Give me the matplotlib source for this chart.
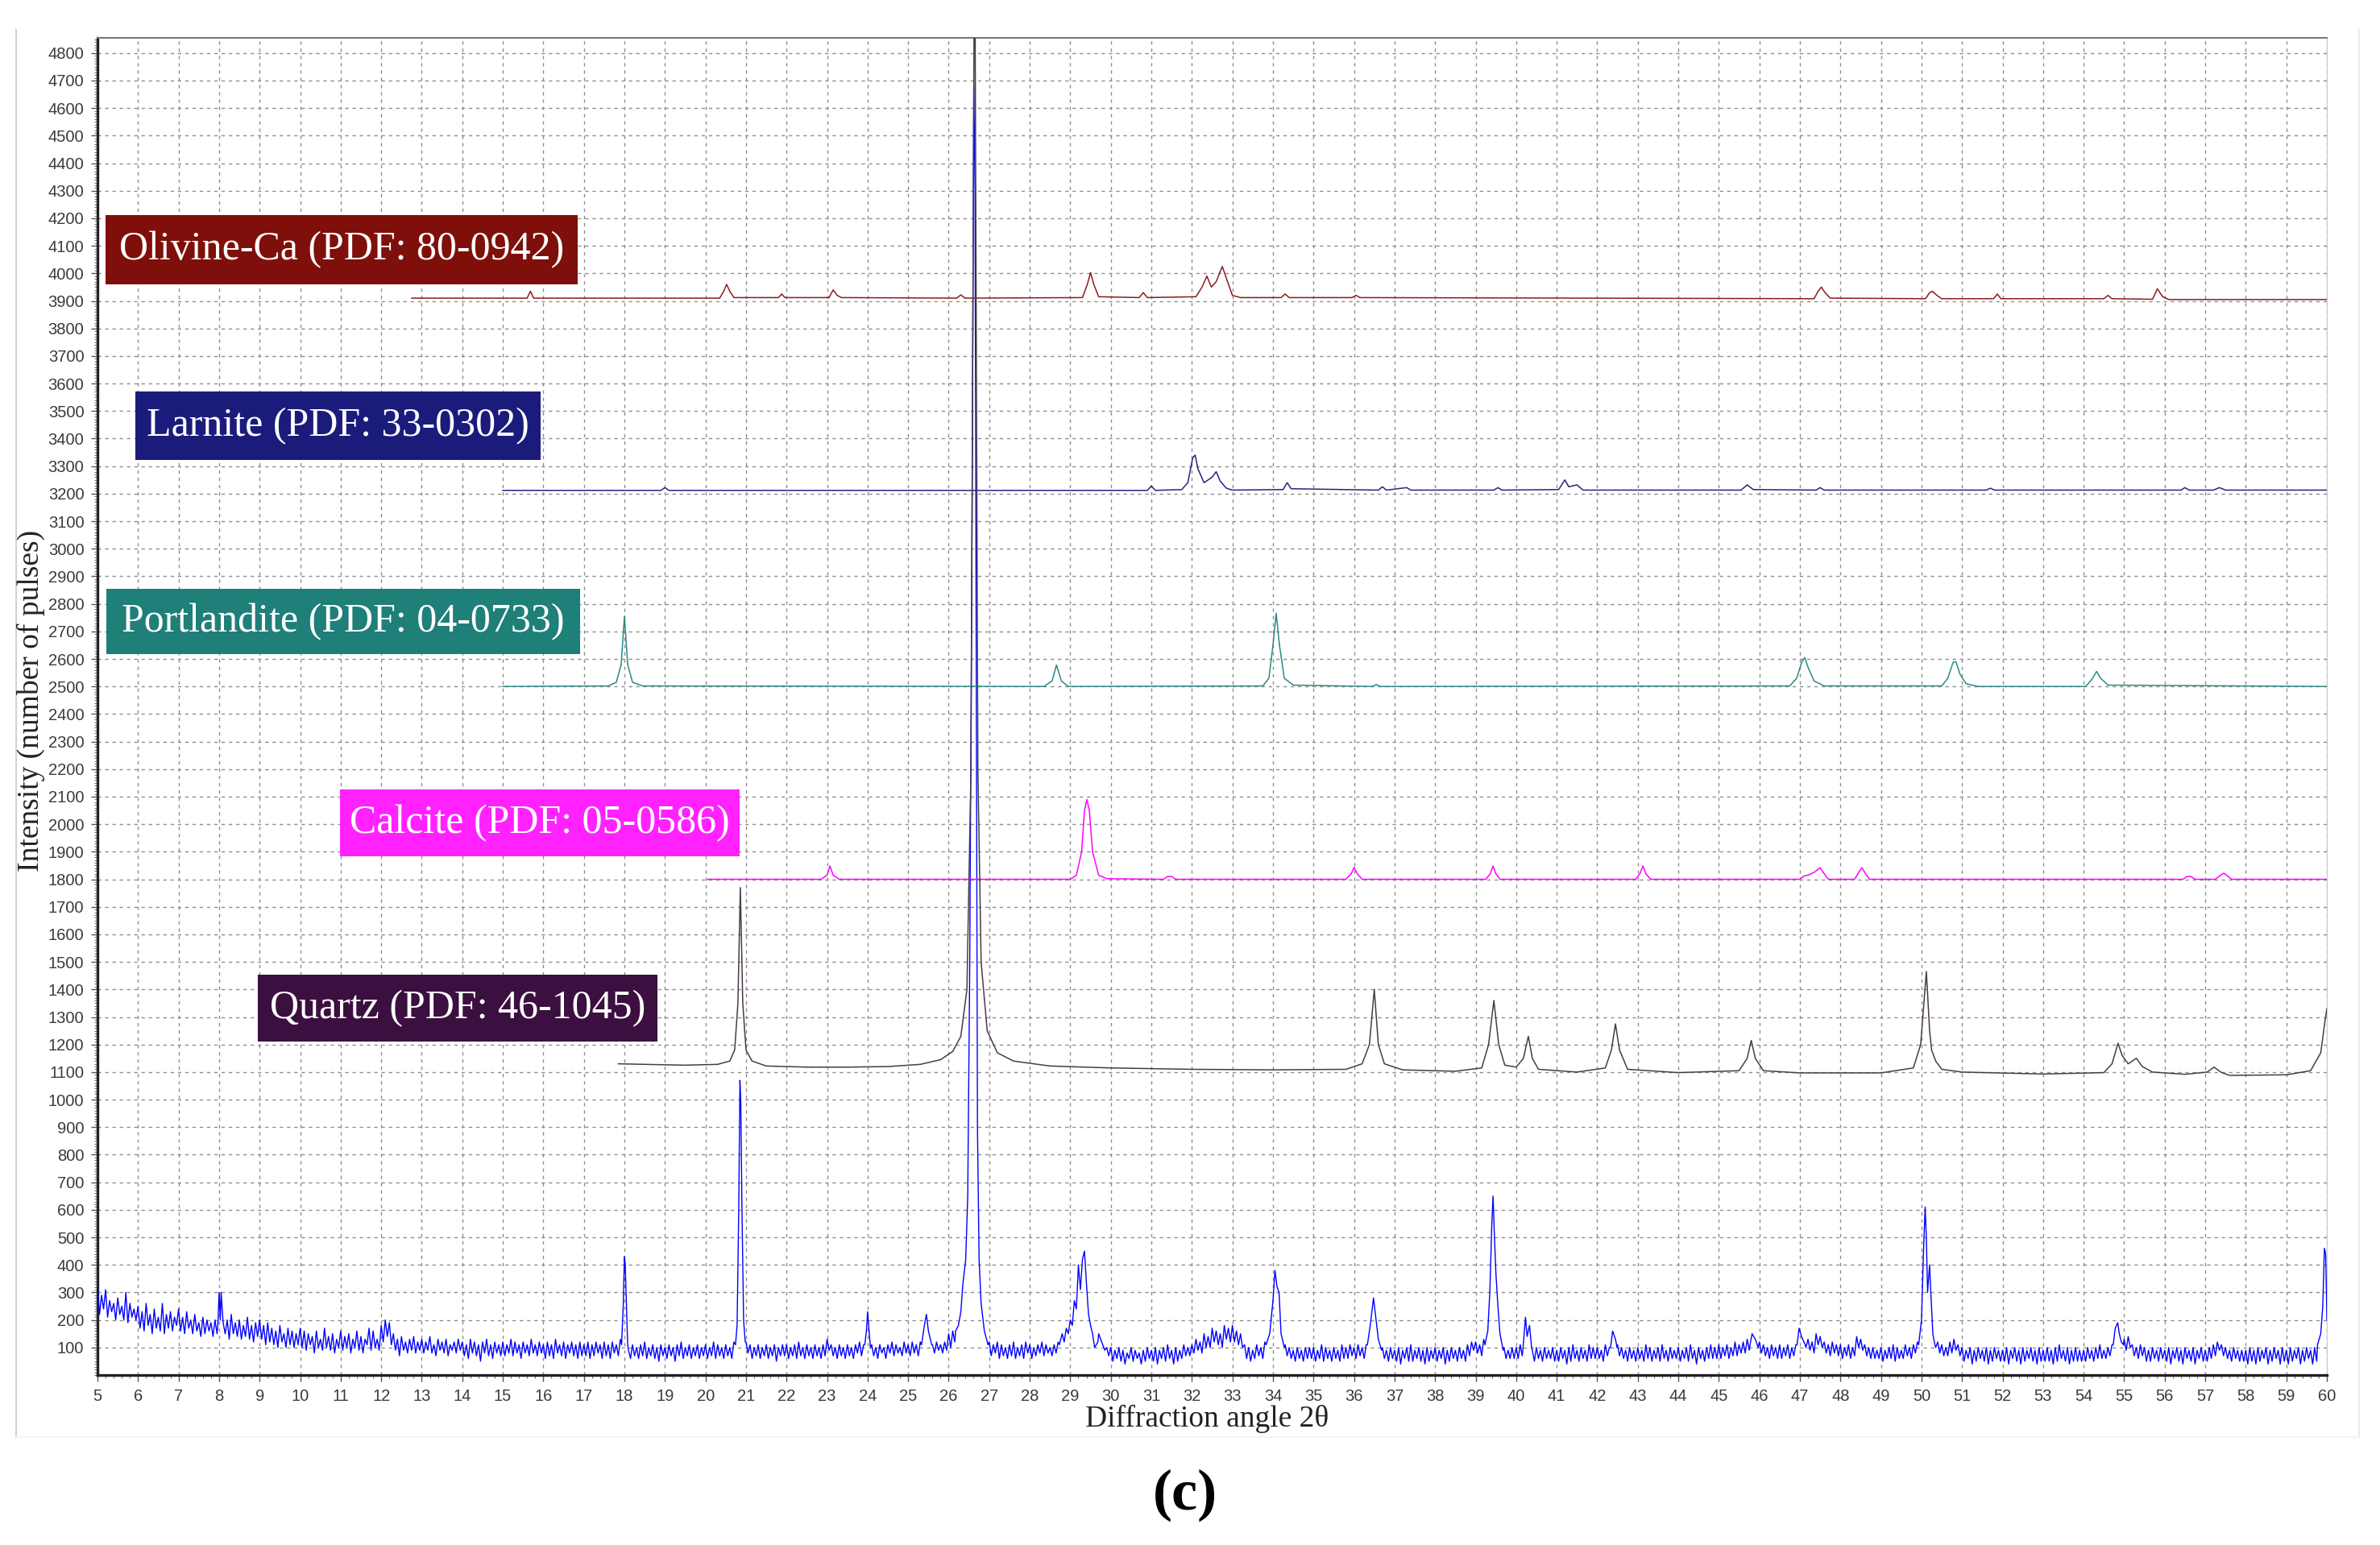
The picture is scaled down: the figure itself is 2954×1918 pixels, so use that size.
import matplotlib
matplotlib.use("Agg")
import matplotlib.pyplot as plt
from matplotlib.patches import Rectangle
from matplotlib.lines import Line2D
from matplotlib.ticker import MultipleLocator, FixedLocator

# ---------------- data ----------------
x_ticks = list(range(5, 61))
y_ticks = list(range(100, 4801, 100))

# measured pattern: background sampled every 0.05 deg, one row per degree (5.00 .. 59.95), then 60.0
blue_base = [
    [320, 220, 290, 240, 310, 210, 270, 230, 260, 200, 280, 220, 250, 200, 300, 190, 260, 210, 240, 200],  # 5
    [250, 170, 230, 160, 260, 180, 220, 150, 240, 170, 210, 160, 260, 150, 220, 170, 230, 160, 210, 180],  # 6
    [240, 160, 210, 150, 230, 170, 200, 150, 220, 160, 190, 140, 210, 150, 200, 160, 190, 140, 200, 150],  # 7
    [210, 300, 190, 150, 200, 130, 220, 150, 190, 140, 200, 130, 180, 140, 210, 130, 180, 120, 190, 140],  # 8
    [200, 130, 180, 110, 190, 120, 170, 110, 160, 100, 180, 120, 150, 100, 170, 110, 160, 100, 150, 110],  # 9
    [170, 100, 160, 90, 150, 110, 140, 80, 160, 100, 130, 90, 170, 100, 140, 90, 150, 80, 130, 100],       # 10
    [160, 90, 140, 100, 150, 80, 130, 100, 160, 90, 140, 80, 130, 110, 170, 90, 160, 100, 130, 90],        # 11
    [180, 120, 200, 140, 190, 110, 150, 90, 130, 70, 140, 90, 120, 80, 130, 90, 140, 80, 120, 90],         # 12
    [130, 80, 120, 90, 140, 80, 110, 70, 130, 90, 120, 80, 130, 70, 110, 90, 120, 80, 130, 90],            # 13
    [120, 70, 110, 60, 130, 80, 120, 70, 110, 50, 120, 80, 130, 70, 110, 60, 120, 80, 110, 70],            # 14
    [120, 70, 110, 80, 130, 70, 120, 80, 110, 60, 120, 80, 110, 70, 130, 80, 110, 70, 120, 80],            # 15
    [110, 60, 120, 70, 110, 60, 130, 80, 110, 70, 120, 60, 110, 80, 120, 70, 110, 60, 120, 70],            # 16
    [110, 70, 120, 60, 110, 70, 120, 80, 110, 60, 120, 70, 110, 60, 120, 80, 110, 70, 130, 90],            # 17
    [400, 110, 90, 60, 110, 70, 100, 60, 110, 70, 120, 60, 100, 70, 110, 60, 100, 50, 110, 70],            # 18
    [100, 60, 110, 70, 100, 50, 110, 70, 120, 60, 100, 70, 110, 60, 100, 70, 110, 60, 100, 70],            # 19
    [110, 60, 100, 70, 120, 60, 110, 70, 100, 60, 110, 70, 100, 60, 120, 80, 110, 90, 130, 100],           # 20
    [120, 80, 110, 60, 100, 70, 110, 60, 100, 70, 110, 60, 100, 70, 110, 50, 100, 70, 110, 70],            # 21
    [110, 60, 100, 70, 110, 60, 120, 70, 100, 60, 110, 70, 100, 60, 110, 70, 100, 60, 110, 70],            # 22
    [130, 90, 110, 70, 100, 60, 110, 70, 100, 60, 110, 70, 100, 60, 110, 80, 120, 70, 110, 80],            # 23
    [200, 100, 110, 70, 100, 60, 110, 80, 100, 60, 110, 80, 120, 70, 110, 80, 100, 70, 120, 80],           # 24
    [110, 70, 120, 80, 110, 70, 120, 80, 130, 90, 120, 90, 110, 80, 120, 90, 110, 80, 120, 90],            # 25
    [150, 100, 160, 120, 170, 130, 200, 150, 190, 160, 180, 150, 170, 140, 160, 130, 150, 120, 140, 110],  # 26
    [120, 70, 110, 80, 120, 60, 110, 70, 100, 60, 110, 70, 120, 60, 100, 70, 110, 60, 120, 80],            # 27
    [110, 60, 100, 70, 110, 80, 120, 70, 110, 80, 100, 70, 110, 80, 120, 90, 110, 90, 130, 100],           # 28
    [200, 230, 270, 300, 400, 380, 420, 440, 450, 420, 330, 250, 200, 170, 150, 130, 110, 90, 100, 70],    # 29
    [100, 50, 90, 60, 100, 50, 90, 40, 80, 60, 100, 50, 90, 60, 80, 40, 90, 50, 100, 60],                  # 30
    [90, 50, 100, 40, 90, 60, 100, 50, 110, 60, 90, 40, 100, 50, 90, 60, 110, 70, 100, 70],                # 31
    [110, 80, 130, 90, 120, 80, 150, 100, 140, 100, 170, 120, 160, 110, 150, 100, 180, 130, 170, 120],     # 32
    [180, 120, 160, 110, 150, 100, 110, 60, 100, 50, 90, 60, 110, 70, 100, 60, 120, 80, 110, 70],          # 33
    [250, 330, 350, 320, 150, 120, 110, 70, 100, 60, 90, 50, 100, 60, 90, 50, 100, 60, 100, 60],           # 34
    [100, 50, 90, 60, 110, 50, 100, 60, 90, 50, 100, 60, 90, 50, 110, 60, 100, 60, 110, 70],               # 35
    [100, 60, 110, 70, 100, 60, 110, 70, 200, 250, 280, 150, 120, 80, 100, 60, 90, 50, 100, 60],           # 36
    [90, 50, 100, 40, 90, 60, 100, 50, 110, 50, 90, 60, 100, 50, 90, 40, 100, 50, 90, 60],                 # 37
    [100, 50, 90, 60, 100, 40, 90, 50, 100, 60, 90, 50, 100, 60, 90, 50, 110, 70, 120, 90],                # 38
    [120, 80, 110, 70, 130, 90, 160, 200, 600, 500, 370, 200, 150, 100, 100, 60, 90, 60, 100, 60],         # 39
    [100, 60, 110, 70, 210, 150, 90, 60, 90, 50, 100, 60, 90, 50, 100, 60, 90, 60, 100, 50],               # 40
    [90, 50, 100, 60, 90, 40, 100, 50, 110, 60, 90, 50, 100, 60, 90, 50, 110, 60, 100, 60],                # 41
    [100, 60, 90, 50, 110, 70, 100, 80, 150, 120, 110, 70, 100, 60, 90, 50, 100, 60, 90, 50],              # 42
    [100, 60, 90, 50, 110, 60, 100, 50, 90, 60, 100, 50, 110, 60, 90, 50, 100, 60, 90, 60],                # 43
    [100, 50, 90, 60, 100, 50, 110, 60, 90, 40, 100, 60, 90, 50, 100, 60, 110, 60, 100, 60],               # 44
    [110, 60, 100, 70, 110, 60, 100, 70, 120, 70, 110, 80, 120, 80, 130, 90, 150, 110, 140, 100],          # 45
    [120, 80, 110, 70, 100, 60, 110, 70, 100, 60, 110, 60, 100, 70, 110, 60, 100, 70, 110, 80],            # 46
    [160, 120, 140, 100, 130, 90, 120, 80, 150, 110, 140, 100, 120, 80, 110, 70, 120, 80, 110, 70],        # 47
    [110, 60, 100, 70, 110, 60, 100, 70, 140, 100, 130, 90, 110, 70, 100, 60, 100, 60, 90, 60],            # 48
    [100, 50, 90, 60, 100, 60, 110, 50, 100, 60, 90, 60, 110, 70, 100, 60, 110, 80, 120, 90],              # 49
    [150, 300, 500, 420, 350, 200, 130, 100, 120, 80, 110, 70, 100, 70, 120, 80, 130, 90, 110, 70],        # 50
    [100, 50, 90, 60, 100, 40, 90, 50, 100, 60, 90, 50, 100, 40, 90, 50, 100, 60, 90, 50],                 # 51
    [90, 50, 100, 40, 90, 60, 100, 50, 90, 40, 100, 50, 90, 60, 100, 50, 90, 40, 100, 50],                 # 52
    [90, 50, 100, 50, 90, 40, 100, 50, 110, 60, 90, 50, 100, 40, 90, 50, 100, 50, 90, 50],                 # 53
    [90, 50, 100, 60, 90, 50, 100, 60, 110, 60, 90, 60, 100, 70, 110, 80, 170, 130, 140, 100],             # 54
    [130, 90, 140, 100, 110, 70, 100, 60, 110, 70, 100, 50, 90, 50, 100, 60, 90, 50, 100, 60],             # 55
    [90, 50, 100, 40, 90, 60, 100, 50, 90, 40, 100, 60, 90, 50, 100, 40, 90, 60, 100, 50],                 # 56
    [90, 50, 100, 60, 110, 70, 120, 90, 110, 70, 100, 60, 90, 50, 100, 60, 90, 50, 90, 50],                # 57
    [90, 40, 100, 50, 90, 40, 100, 50, 90, 60, 100, 40, 90, 50, 100, 60, 90, 40, 100, 50],                 # 58
    [90, 40, 100, 50, 90, 60, 100, 40, 90, 50, 100, 60, 90, 40, 100, 50, 120, 90, 150, 110],               # 59
    [200],                                                                                                 # 60
]

# sharp peaks of the measured pattern (2theta, counts)
blue_peaks = [
    [(7.97, 180), (8.0, 300), (8.03, 200)],
    [(17.93, 110), (17.97, 250), (18.0, 430), (18.02, 400), (18.05, 250), (18.08, 110)],
    [(20.74, 110), (20.78, 180), (20.82, 600), (20.85, 1070), (20.87, 1000), (20.9, 600), (20.94, 200), (20.98, 120)],
    [(23.93, 110), (23.97, 160), (24.0, 230), (24.03, 170), (24.07, 100)],
    [(25.33, 110), (25.4, 180), (25.45, 220), (25.5, 160), (25.58, 110)],
    [(26.17, 160), (26.24, 180), (26.3, 230), (26.35, 330), (26.42, 420), (26.47, 650), (26.52, 1500),
     (26.58, 3200), (26.62, 4680), (26.65, 4300), (26.68, 2600), (26.71, 900), (26.75, 420),
     (26.8, 260), (26.88, 160), (26.97, 110)],
    [(28.73, 110), (28.8, 150), (28.85, 120), (28.9, 170), (28.95, 150), (29.0, 200), (29.05, 180),
     (29.1, 270), (29.15, 240), (29.2, 400), (29.25, 310), (29.3, 420), (29.35, 450), (29.4, 330),
     (29.45, 220), (29.5, 180), (29.55, 150), (29.6, 100), (29.68, 120)],
    [(33.83, 110), (33.92, 150), (34.0, 270), (34.05, 380), (34.1, 320), (34.15, 300), (34.2, 150), (34.28, 100)],
    [(36.33, 110), (36.4, 180), (36.48, 280), (36.52, 230), (36.6, 130), (36.68, 90)],
    [(39.23, 110), (39.3, 160), (39.35, 300), (39.4, 550), (39.43, 650), (39.46, 520), (39.5, 370),
     (39.55, 250), (39.6, 150), (39.68, 90)],
    [(40.17, 100), (40.23, 210), (40.27, 140), (40.33, 180), (40.38, 100)],
    [(42.33, 100), (42.38, 160), (42.45, 130), (42.49, 100)],
    [(45.77, 110), (45.82, 150), (45.9, 130), (45.97, 100)],
    [(46.93, 110), (46.98, 170), (47.04, 140), (47.13, 110)],
    [(49.93, 110), (50.0, 200), (50.05, 450), (50.09, 610), (50.12, 500), (50.15, 300), (50.2, 400),
     (50.23, 300), (50.28, 150), (50.33, 110)],
    [(54.73, 110), (54.78, 170), (54.84, 190), (54.88, 150), (54.93, 120), (54.98, 110)],
    [(59.77, 110), (59.85, 150), (59.9, 250), (59.94, 460), (59.97, 440), (59.99, 300), (60.0, 200)],
]

# reference patterns (2theta, offset intensity)
quartz = [(17.85, 1130), (18.5, 1128), (19.5, 1125), (20.3, 1128), (20.6, 1140), (20.72, 1180), (20.8, 1350),
          (20.86, 1770), (20.92, 1350), (21.0, 1180), (21.15, 1140), (21.5, 1122), (22.5, 1118), (23.5, 1118),
          (24.5, 1120), (25.3, 1128), (25.8, 1145), (26.1, 1175), (26.3, 1230), (26.45, 1400), (26.55, 2200),
          (26.64, 5400), (26.72, 2200), (26.8, 1500), (26.95, 1250), (27.2, 1170), (27.6, 1140), (28.5, 1122),
          (30.0, 1115), (32.0, 1110), (34.0, 1108), (35.8, 1110), (36.2, 1130), (36.38, 1200), (36.5, 1400),
          (36.6, 1200), (36.75, 1130), (37.2, 1108), (38.5, 1103), (39.15, 1115), (39.32, 1200), (39.45, 1360),
          (39.57, 1200), (39.72, 1125), (40.0, 1118), (40.18, 1150), (40.3, 1230), (40.4, 1150), (40.55, 1110),
          (41.5, 1100), (42.2, 1115), (42.35, 1180), (42.45, 1275), (42.55, 1180), (42.75, 1110), (44.0, 1098),
          (45.5, 1105), (45.7, 1150), (45.8, 1215), (45.9, 1150), (46.1, 1105), (47.0, 1097), (49.0, 1097),
          (49.8, 1115), (49.98, 1200), (50.12, 1465), (50.2, 1250), (50.25, 1180), (50.35, 1140), (50.5, 1110),
          (51.0, 1100), (53.0, 1093), (54.5, 1098), (54.7, 1130), (54.85, 1205), (54.95, 1160), (55.1, 1130),
          (55.3, 1150), (55.45, 1120), (55.7, 1100), (56.5, 1092), (57.05, 1100), (57.22, 1118), (57.38, 1100),
          (57.6, 1088), (59.0, 1090), (59.6, 1105), (59.85, 1170), (59.95, 1280), (60.0, 1330)]

calcite = [(20.05, 1800), (22.85, 1800), (23.0, 1815), (23.07, 1848), (23.15, 1815), (23.3, 1800), (29.0, 1800),
           (29.15, 1815), (29.28, 1900), (29.35, 2050), (29.41, 2090), (29.47, 2050), (29.55, 1900), (29.7, 1815),
           (29.9, 1802), (31.3, 1800), (31.4, 1810), (31.5, 1810), (31.6, 1800), (35.8, 1800), (35.93, 1820),
           (36.0, 1843), (36.08, 1820), (36.2, 1800), (39.25, 1800), (39.36, 1820), (39.43, 1848), (39.5, 1820),
           (39.6, 1800), (42.95, 1800), (43.05, 1820), (43.13, 1848), (43.2, 1820), (43.32, 1800), (47.0, 1800),
           (47.1, 1812), (47.2, 1815), (47.35, 1825), (47.5, 1842), (47.6, 1820), (47.7, 1800), (48.35, 1800),
           (48.45, 1825), (48.53, 1842), (48.62, 1820), (48.72, 1800), (56.45, 1800), (56.55, 1810),
           (56.65, 1810), (56.75, 1800), (57.25, 1800), (57.38, 1815), (57.46, 1822), (57.55, 1812),
           (57.65, 1800), (60.0, 1800)]

portlandite = [(15.0, 2500), (17.6, 2502), (17.8, 2515), (17.92, 2580), (18.0, 2755), (18.08, 2580), (18.2, 2515),
               (18.45, 2502), (28.35, 2500), (28.55, 2520), (28.66, 2578), (28.78, 2520), (28.95, 2500),
               (33.75, 2502), (33.9, 2530), (34.0, 2650), (34.08, 2766), (34.16, 2650), (34.28, 2530),
               (34.5, 2505), (36.45, 2500), (36.55, 2507), (36.65, 2500), (46.75, 2502), (46.92, 2530),
               (47.05, 2590), (47.12, 2605), (47.2, 2570), (47.35, 2520), (47.6, 2502), (50.5, 2502),
               (50.65, 2530), (50.78, 2588), (50.85, 2590), (50.95, 2545), (51.1, 2510), (51.4, 2500),
               (54.05, 2500), (54.2, 2525), (54.32, 2555), (54.42, 2530), (54.6, 2505), (60.0, 2500)]

larnite = [(15.0, 3212), (18.9, 3212), (19.0, 3222), (19.1, 3212), (30.9, 3212), (31.0, 3228), (31.1, 3212),
           (31.75, 3215), (31.9, 3240), (32.02, 3330), (32.08, 3340), (32.15, 3290), (32.3, 3240), (32.5, 3260),
           (32.6, 3280), (32.7, 3245), (32.85, 3220), (33.0, 3213), (34.25, 3215), (34.35, 3240), (34.45, 3218),
           (36.6, 3213), (36.7, 3225), (36.8, 3213), (37.3, 3222), (37.4, 3213), (39.45, 3213), (39.55, 3222),
           (39.65, 3213), (41.05, 3215), (41.2, 3250), (41.3, 3225), (41.5, 3232), (41.65, 3213), (45.55, 3213),
           (45.7, 3232), (45.85, 3215), (47.4, 3213), (47.5, 3222), (47.6, 3213), (51.6, 3213), (51.7, 3220),
           (51.8, 3213), (56.4, 3213), (56.5, 3222), (56.6, 3213), (57.2, 3213), (57.35, 3222), (57.5, 3213),
           (60.0, 3213)]

olivine = [(12.75, 3910), (15.6, 3910), (15.68, 3935), (15.76, 3910), (20.35, 3910), (20.45, 3935), (20.52, 3960),
           (20.6, 3935), (20.7, 3912), (21.8, 3912), (21.88, 3925), (21.96, 3912), (23.05, 3912), (23.15, 3940),
           (23.25, 3920), (23.35, 3912), (26.2, 3910), (26.3, 3922), (26.4, 3910), (29.3, 3912), (29.42, 3960),
           (29.5, 4003), (29.58, 3960), (29.7, 3915), (30.7, 3912), (30.8, 3930), (30.9, 3912), (32.1, 3915),
           (32.25, 3950), (32.37, 3990), (32.48, 3950), (32.6, 3970), (32.75, 4025), (32.88, 3970), (33.0, 3920),
           (33.2, 3912), (34.2, 3912), (34.3, 3925), (34.4, 3912), (35.95, 3912), (36.05, 3920), (36.15, 3912),
           (47.35, 3908), (47.45, 3935), (47.53, 3950), (47.62, 3930), (47.75, 3910), (50.1, 3908), (50.2, 3930),
           (50.27, 3935), (50.38, 3920), (50.5, 3908), (51.78, 3908), (51.87, 3925), (51.96, 3908), (54.5, 3908),
           (54.6, 3920), (54.7, 3908), (55.7, 3906), (55.82, 3944), (55.95, 3915), (56.1, 3905), (60.0, 3905)]

phase_labels = ["Olivine-Ca (PDF: 80-0942)", "Larnite (PDF: 33-0302)", "Portlandite (PDF: 04-0733)",
                "Calcite (PDF: 05-0586)", "Quartz (PDF: 46-1045)"]

# ---------------- build measured pattern ----------------
flat = [v for row in blue_base for v in row]
pts = [(round(5.0 + 0.05 * i, 2), v) for i, v in enumerate(flat)]
for pk in blue_peaks:
    lo, hi = pk[0][0], pk[-1][0]
    pts = [p for p in pts if not (lo <= p[0] <= hi)]
    pts += pk
pts.sort()
bx = [p[0] for p in pts]
by = [p[1] for p in pts]

# ---------------- figure ----------------
W, H = 2954, 1918
fig = plt.figure(figsize=(W / 100, H / 100), dpi=100)
fig.patch.set_facecolor("white")

L, R, T, B = 121, 2888, 47, 1707
ax = fig.add_axes([L / W, 1 - B / H, (R - L) / W, (B - T) / H])

ax.plot(bx, by, color="#0000ff", lw=1.0, zorder=3)

ref_series = [
    (olivine, "#8a1d1d"),
    (larnite, "#25257e"),
    (portlandite, "#2a8a84"),
    (calcite, "#ff00ff"),
    (quartz, "#4a3a4a"),
]
for data, col in ref_series:
    ax.plot([d[0] for d in data], [d[1] for d in data], color=col, lw=1.1, zorder=4)

ax.set_xlim(5, 60)
ax.set_ylim(0, 4855)

ax.xaxis.set_major_locator(FixedLocator(x_ticks))
ax.xaxis.set_minor_locator(MultipleLocator(0.2))
ax.yaxis.set_major_locator(FixedLocator(y_ticks))
ax.yaxis.set_minor_locator(MultipleLocator(10))

tick_font = dict(family="Liberation Sans", size=14.5, color="#3a3a3a")
ax.set_xticklabels([str(t) for t in x_ticks], **tick_font)
ax.set_yticklabels([str(t) for t in y_ticks], **tick_font)
ax.tick_params(axis="both", which="major", direction="out", length=6, width=1.0, color="#555555", pad=6)
ax.tick_params(axis="both", which="minor", direction="out", length=3, width=0.8, color="#777777")

ax.grid(True, which="major", color="#8c8c8c", lw=1.0, ls=(0, (3, 3.5)))
ax.set_axisbelow(True)

ax.spines["left"].set_linewidth(2.4)
ax.spines["bottom"].set_linewidth(2.4)
ax.spines["left"].set_color("#222222")
ax.spines["bottom"].set_color("#222222")
ax.spines["top"].set_color("#7a7a7a")
ax.spines["top"].set_linewidth(1.5)
ax.spines["right"].set_color("#c8c8c8")
ax.spines["right"].set_linewidth(0.8)

serif = "Liberation Serif"
fig.text(1498 / W, 1 - 1761 / H, "Diffraction angle 2\u03b8", ha="center", va="center",
         family=serif, fontsize=27, color="#222222")
fig.text(38 / W, 1 - 870 / H, "Intensity (number of pulses)", ha="center", va="center",
         rotation=90, family=serif, fontsize=27, color="#222222")
fig.text(1471 / W, 1 - 1856 / H, "(c)", ha="center", va="center", family=serif,
         fontsize=52, fontweight="bold", color="black")

# outer light frame
fig.add_artist(Line2D([20 / W, 20 / W], [1 - 37 / H, 1 - 1784 / H], transform=fig.transFigure,
                      color="#d2d2d2", lw=1.6))
fig.add_artist(Line2D([2928 / W, 2928 / W], [1 - 37 / H, 1 - 1784 / H], transform=fig.transFigure,
                      color="#ececec", lw=1.6))
fig.add_artist(Line2D([20 / W, 2928 / W], [1 - 1784 / H, 1 - 1784 / H], transform=fig.transFigure,
                      color="#f2f2f2", lw=1.2))

# phase label boxes
boxes = [
    ((131, 267, 717, 353), "#7f0f0a"),
    ((168, 486, 671, 571), "#1b1b7c"),
    ((132, 731, 720, 812), "#1f7f79"),
    ((422, 980, 918, 1063), "#ff22ff"),
    ((320, 1210, 816, 1293), "#3b0f3f"),
]
for (txt, ((x0, y0, x1, y1), col)) in zip(phase_labels, boxes):
    fig.add_artist(Rectangle((x0 / W, 1 - y1 / H), (x1 - x0) / W, (y1 - y0) / H,
                             transform=fig.transFigure, facecolor=col, edgecolor="none", zorder=10))
    fig.text((x0 + x1) / 2 / W, 1 - (y0 + y1) / 2 / H, txt, ha="center", va="center",
             family=serif, fontsize=36, color="white", zorder=11)

fig.savefig("out.png", dpi=100, facecolor="white")
